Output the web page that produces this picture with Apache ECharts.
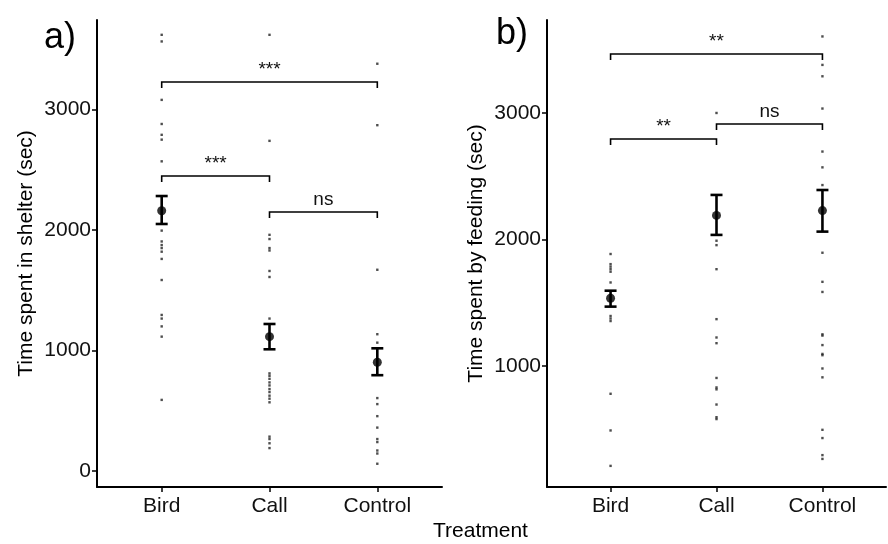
<!DOCTYPE html>
<html>
<head>
<meta charset="utf-8">
<script src="https://cdn.jsdelivr.net/npm/echarts@6/dist/echarts.min.js"></script>
<style>
  html, body { margin: 0; padding: 0; background: #fff; }
  #chart { width: 888px; height: 544px; }
</style>
</head>
<body>
<div id="chart"></div>
<script>
// categories on both panels
const categories = ['Bird', 'Call', 'Control']

// a) time spent in shelter (sec) - raw points per treatment
const shelterBird = [3620, 3565, 3080, 2880, 2790, 2750, 2570, 1995, 1905, 1875, 1850, 1820, 1760, 1585, 1295, 1265, 1200, 1115, 590]
const shelterCall = [3620, 2740, 1960, 1925, 1850, 1830, 1660, 1610, 1265, 810, 790, 765, 735, 710, 680, 655, 625, 600, 570, 285, 265, 230, 190]
const shelterControl = [3380, 2870, 1670, 1135, 1065, 605, 555, 455, 360, 265, 240, 170, 145, 60]
// mean and standard error limits
const shelterMean = [2160, 1115, 902]
const shelterLow = [2050, 1010, 795]
const shelterHigh = [2282, 1220, 1018]
// significance brackets: [from, to, height]
const shelterBrackets = [[1, 3, 3228], [1, 2, 2448], [2, 3, 2149]]
const shelterSig = ['***', '***', 'ns']
const shelterTicks = [0, 1000, 2000, 3000]
const shelterRange = [-133, 3743]

// b) time spent by feeding (sec)
const feedBird = [1885, 1805, 1785, 1765, 1745, 1660, 1395, 1375, 1355, 780, 490, 210]
const feedCall = [3000, 1990, 1955, 1765, 1370, 1225, 1180, 905, 830, 815, 695, 595, 580]
const feedControl = [3605, 3380, 3290, 3035, 2695, 2570, 2430, 1895, 1665, 1585, 1250, 1240, 1165, 1095, 1085, 980, 910, 495, 430, 295, 265]
const feedMean = [1535, 2190, 2228]
const feedLow = [1469, 2036, 2062]
const feedHigh = [1595, 2352, 2391]
const feedBrackets = [[1, 3, 3466], [1, 2, 2794], [2, 3, 2913]]
const feedSig = ['**', '**', 'ns']
const feedTicks = [1000, 2000, 3000]
const feedRange = [43, 3735]

const FONT = "'Liberation Sans', Arial, sans-serif"

const myChart = echarts.init(document.getElementById('chart'))

function points (lists) {
  const out = []
  lists.forEach((list, i) => {
    list.forEach(v => out.push([i + 1, v]))
  })
  return out
}

function xAxisFor (idx) {
  return {
    type: 'value',
    gridIndex: idx,
    min: 0.4,
    max: 3.6,
    splitLine: { show: false },
    axisLine: { show: true, onZero: false, lineStyle: { color: '#000', width: 2 } },
    axisTick: { show: true, customValues: [1, 2, 3], length: 5, lineStyle: { color: '#000', width: 1.5 } },
    axisLabel: {
      customValues: [1, 2, 3],
      formatter: v => categories[Math.round(v) - 1] || '',
      color: '#111',
      fontSize: 21,
      fontFamily: FONT,
      margin: 9
    }
  }
}

function yAxisFor (idx, range, ticks, title) {
  return {
    type: 'value',
    gridIndex: idx,
    min: range[0],
    max: range[1],
    name: title,
    nameLocation: 'middle',
    nameGap: 60,
    nameTextStyle: { color: '#000', fontSize: 21, fontFamily: FONT },
    splitLine: { show: false },
    axisLine: { show: true, onZero: false, lineStyle: { color: '#000', width: 2 } },
    axisTick: { show: true, customValues: ticks, length: 5, lineStyle: { color: '#000', width: 1.5 } },
    axisLabel: {
      customValues: ticks,
      formatter: v => String(v),
      color: '#111',
      fontSize: 21,
      fontFamily: FONT,
      margin: 6
    }
  }
}

function errorSeries (idx, low, high) {
  return {
    type: 'custom',
    xAxisIndex: idx,
    yAxisIndex: idx,
    data: low.map((l, i) => [i + 1, l, high[i]]),
    renderItem: function (params, api) {
      const x = api.value(0)
      const a = api.coord([x, api.value(1)])
      const b = api.coord([x, api.value(2)])
      const w = 6
      const st = { stroke: '#000', lineWidth: 2.6 }
      return {
        type: 'group',
        children: [
          { type: 'line', shape: { x1: a[0], y1: a[1], x2: b[0], y2: b[1] }, style: st },
          { type: 'line', shape: { x1: a[0] - w, y1: a[1], x2: a[0] + w, y2: a[1] }, style: st },
          { type: 'line', shape: { x1: b[0] - w, y1: b[1], x2: b[0] + w, y2: b[1] }, style: st }
        ]
      }
    },
    z: 5
  }
}

function bracketSeries (idx, brackets, labels) {
  return {
    type: 'custom',
    xAxisIndex: idx,
    yAxisIndex: idx,
    data: brackets,
    renderItem: function (params, api) {
      const p1 = api.coord([api.value(0), api.value(2)])
      const p2 = api.coord([api.value(1), api.value(2)])
      const drop = 6
      return {
        type: 'group',
        children: [
          {
            type: 'polyline',
            shape: { points: [[p1[0], p1[1] + drop], [p1[0], p1[1]], [p2[0], p2[1]], [p2[0], p2[1] + drop]] },
            style: { stroke: '#000', lineWidth: 1.6, fill: null }
          },
          {
            type: 'text',
            x: (p1[0] + p2[0]) / 2,
            y: p1[1] - 3,
            style: {
              text: labels[params.dataIndex],
              fill: '#111',
              font: '19px ' + FONT,
              align: 'center',
              verticalAlign: 'bottom'
            }
          }
        ]
      }
    },
    z: 4
  }
}

function dotSeries (idx, lists) {
  return {
    type: 'scatter',
    xAxisIndex: idx,
    yAxisIndex: idx,
    data: points(lists),
    symbol: 'rect',
    symbolSize: 2.4,
    itemStyle: { color: '#222' },
    silent: true,
    z: 3
  }
}

function meanSeries (idx, means) {
  return {
    type: 'scatter',
    xAxisIndex: idx,
    yAxisIndex: idx,
    data: means.map((m, i) => [i + 1, m]),
    symbol: 'circle',
    symbolSize: 9,
    itemStyle: { color: '#000' },
    z: 6
  }
}

myChart.setOption({
  animation: false,
  grid: [
    { left: 97, right: 446, top: 20, bottom: 57 },
    { left: 547, right: 2, top: 20, bottom: 57 }
  ],
  xAxis: [xAxisFor(0), xAxisFor(1)],
  yAxis: [
    yAxisFor(0, shelterRange, shelterTicks, 'Time spent in shelter (sec)'),
    yAxisFor(1, feedRange, feedTicks, 'Time spent by feeding (sec)')
  ],
  graphic: [
    { type: 'text', left: 44, top: 20, style: { text: 'a)', font: '36px ' + FONT, fill: '#000' } },
    { type: 'text', left: 496, top: 16, style: { text: 'b)', font: '36px ' + FONT, fill: '#000' } },
    { type: 'text', left: 433, top: 521, style: { text: 'Treatment', font: '21px ' + FONT, fill: '#000' } }
  ],
  series: [
    dotSeries(0, [shelterBird, shelterCall, shelterControl]),
    errorSeries(0, shelterLow, shelterHigh),
    meanSeries(0, shelterMean),
    bracketSeries(0, shelterBrackets, shelterSig),
    dotSeries(1, [feedBird, feedCall, feedControl]),
    errorSeries(1, feedLow, feedHigh),
    meanSeries(1, feedMean),
    bracketSeries(1, feedBrackets, feedSig)
  ]
})
</script>
</body>
</html>
